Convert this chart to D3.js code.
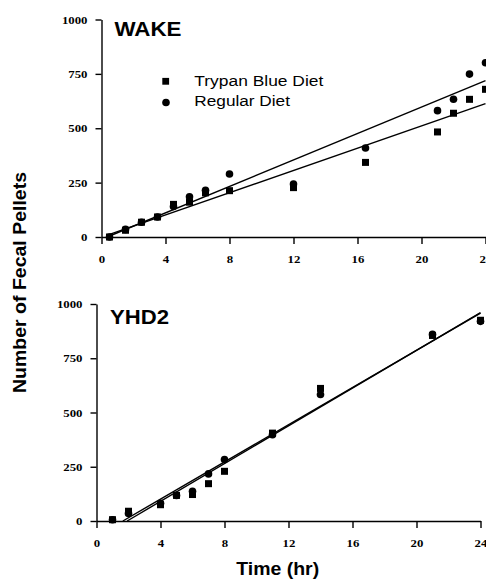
<!DOCTYPE html>
<html><head><meta charset="utf-8">
<script src="https://cdn.jsdelivr.net/npm/d3@7"></script>
<style>body{margin:0;background:#fff}svg{display:block}</style>
</head><body>
<svg id="c" width="486" height="580"></svg>
<script>
// ---- data ----
const wakeTime = [0.5,1.5,2.5,3.5,4.5,5.5,6.5,8,12,16.5,21,22,23,24];
const wakeTrypan = [0,31,68,92,150,160,203,213,227,343,483,569,633,679];
const wakeRegular = [0,35,68,92,140,185,215,290,244,409,581,633,749,801];
const yhdTime = [1,2,4,5,6,7,8,11,14,21,24];
const yhdTrypan = [6,45,75,118,122,172,229,405,611,855,925];
const yhdRegular = [6,35,82,118,137,217,283,398,583,860,920];
const xTicks = [0,4,8,12,16,20,24];
const yTicks = [0,250,500,750,1000];
const panelTitles = ["WAKE","YHD2"];
const legendLabels = ["Trypan Blue Diet","Regular Diet"];

const svg = d3.select("#c");
const serif = "'Liberation Serif','Times New Roman',serif";
const sans = "'Liberation Sans',Arial,Helvetica,sans-serif";

function fit(xs, ys){
  const n = xs.length, mx = d3.mean(xs), my = d3.mean(ys);
  let sxy=0, sxx=0;
  for(let i=0;i<n;i++){ sxy+=(xs[i]-mx)*(ys[i]-my); sxx+=(xs[i]-mx)**2; }
  const m = sxy/sxx; return {m, b: my - m*mx};
}

function panel(cfg){
  const x = d3.scaleLinear().domain([0,24]).range(cfg.xr);
  const y = d3.scaleLinear().domain([0,1000]).range(cfg.yr);
  const g = svg.append("g");
  const fmt = d3.format("d");

  const ya = g.append("g").attr("transform",`translate(${cfg.xr[0]},0)`)
    .call(d3.axisLeft(y).tickValues(yTicks).tickFormat(fmt).tickSize(6).tickPadding(8).tickSizeOuter(0));
  const xa = g.append("g").attr("transform",`translate(0,${cfg.yr[0]})`)
    .call(d3.axisBottom(x).tickValues(xTicks).tickFormat(fmt).tickSize(7).tickPadding(11).tickSizeOuter(0));
  [ya,xa].forEach(a=>{
    a.attr("font-family",serif).attr("font-size",11).attr("font-weight","bold");
    a.select(".domain").attr("stroke","#000").attr("stroke-width",1.4);
    a.selectAll(".tick line").attr("stroke","#000").attr("stroke-width",1.4);
    a.selectAll(".tick text").attr("fill","#000")
      .attr("textLength",function(){return this.textContent.length*6.4;})
      .attr("lengthAdjust","spacingAndGlyphs");
  });

  // regression lines
  [cfg.tr,cfg.rg].forEach(vals=>{
    const f = fit(cfg.t, vals);
    let t0 = d3.min(cfg.t), t1 = d3.max(cfg.t);
    if (f.m*t0+f.b < 0) t0 = -f.b/f.m;
    g.append("line")
      .attr("x1",x(t0)).attr("y1",y(f.m*t0+f.b))
      .attr("x2",x(t1)).attr("y2",y(f.m*t1+f.b))
      .attr("stroke","#000").attr("stroke-width",1.4);
  });

  const s = 7;
  g.selectAll("rect.pt").data(cfg.t.map((t,i)=>[t,cfg.tr[i]])).join("rect")
    .attr("x",d=>x(d[0])-s/2).attr("y",d=>y(d[1])-s/2)
    .attr("width",s).attr("height",s).attr("fill","#000");
  g.selectAll("circle.pt").data(cfg.t.map((t,i)=>[t,cfg.rg[i]])).join("circle")
    .attr("cx",d=>x(d[0])).attr("cy",d=>y(d[1])).attr("r",3.8).attr("fill","#000");

  g.append("text").text(cfg.title)
    .attr("x",cfg.titlePos[0]).attr("y",cfg.titlePos[1])
    .style("font-family",sans).style("font-weight","bold").style("font-size",cfg.titleSize+"px")
    .attr("textLength",cfg.titleLen).attr("lengthAdjust","spacingAndGlyphs");
  return {x,y,g};
}

panel({xr:[101.5,485.5], yr:[237,19.5], t:wakeTime, tr:wakeTrypan, rg:wakeRegular,
  title:panelTitles[0], titlePos:[114.5,35.7], titleSize:19.5, titleLen:67});
panel({xr:[96.5,480.5], yr:[521,304], t:yhdTime, tr:yhdTrypan, rg:yhdRegular,
  title:panelTitles[1], titlePos:[110,323.5], titleSize:21, titleLen:59});

// legend
const lg = svg.append("g");
lg.append("rect").attr("x",162.3).attr("y",77.9).attr("width",6.8).attr("height",6.8).attr("fill","#000");
lg.append("circle").attr("cx",166).attr("cy",102.5).attr("r",3.8).attr("fill","#000");
lg.append("text").text(legendLabels[0]).attr("x",194.3).attr("y",86.3)
  .style("font-family",sans).style("font-size","14px")
  .attr("textLength",129).attr("lengthAdjust","spacingAndGlyphs");
lg.append("text").text(legendLabels[1]).attr("x",194.3).attr("y",106)
  .style("font-family",sans).style("font-size","14px")
  .attr("textLength",95.7).attr("lengthAdjust","spacingAndGlyphs");

// axis titles
svg.append("text").text("Time (hr)").attr("x",277.7).attr("y",575)
  .attr("text-anchor","middle")
  .style("font-family",sans).style("font-weight","bold").style("font-size","17.7px")
  .attr("textLength",83).attr("lengthAdjust","spacingAndGlyphs");
svg.append("text").text("Number of Fecal Pellets")
  .attr("transform","translate(26,282.5) rotate(-90)")
  .attr("text-anchor","middle")
  .style("font-family",sans).style("font-weight","bold").style("font-size","17.7px")
  .attr("textLength",221).attr("lengthAdjust","spacingAndGlyphs");
</script>
</body></html>
